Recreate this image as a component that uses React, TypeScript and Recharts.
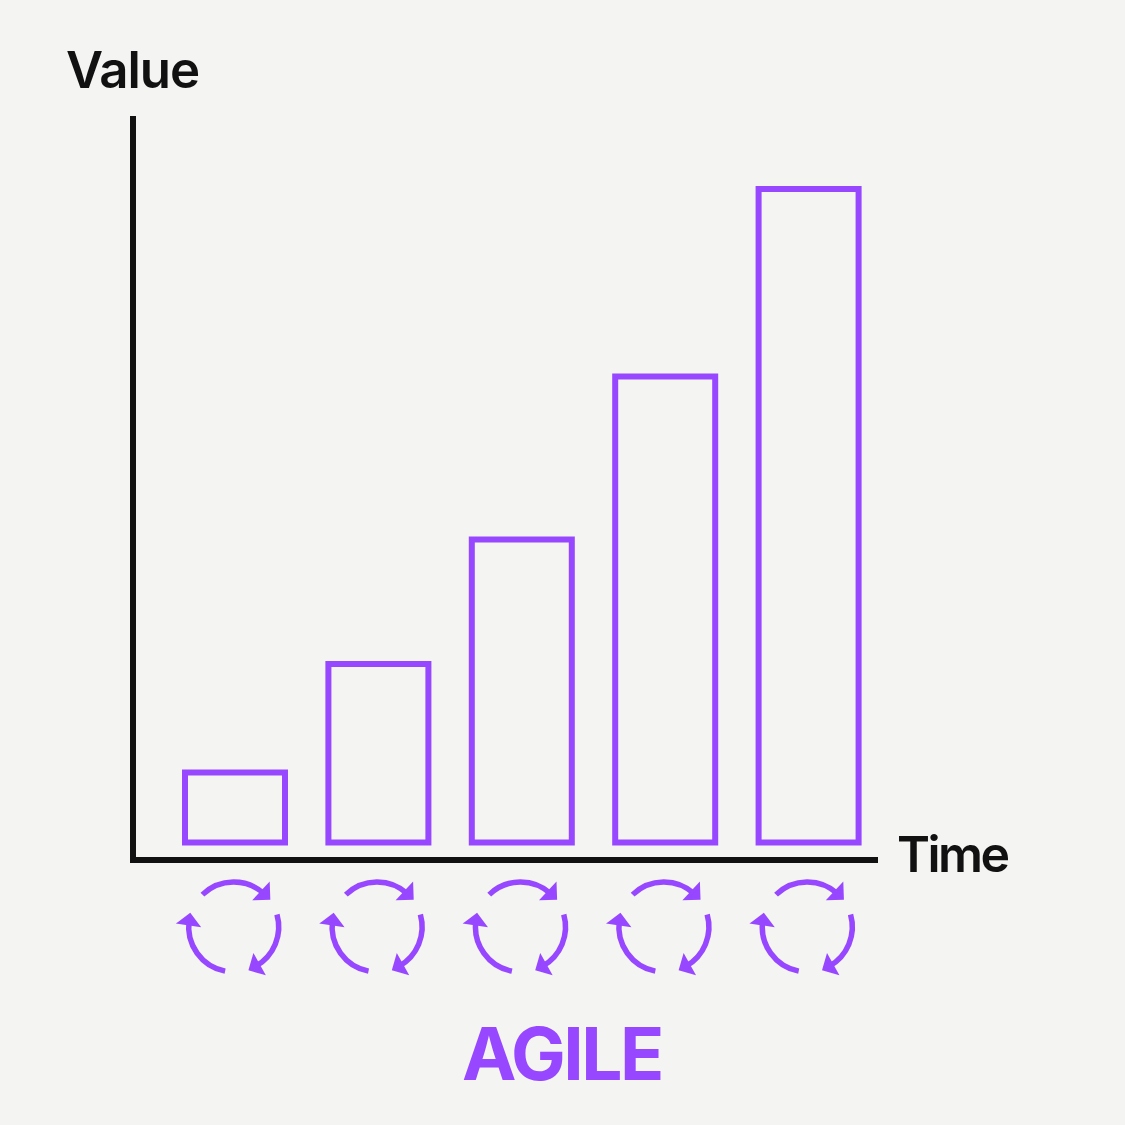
import React from 'react';
import { BarChart, Bar, XAxis, YAxis, Label } from 'recharts';

const sprints = ['Sprint 1', 'Sprint 2', 'Sprint 3', 'Sprint 4', 'Sprint 5'];
const values = [1.0, 2.55, 4.33, 6.66, 9.34];
const yLabel = 'Value';
const xLabel = 'Time';
const title = 'AGILE';

const data = sprints.map((s, i) => ({ sprint: s, value: values[i] }));

const PURPLE = '#9747FF';
const INK = '#111111';
const BG = '#F4F4F2';
const FONT = 'Inter, "Open Sans", sans-serif';

function pt(cx: number, cy: number, r: number, deg: number): [number, number] {
  const a = (deg * Math.PI) / 180;
  return [cx + r * Math.cos(a), cy + r * Math.sin(a)];
}

function CycleIcon({ cx, cy }: { cx: number; cy: number }) {
  const r = 45;
  const arcs: [number, number][] = [
    [-134, -47],
    [-16, 61],
    [101, 188],
  ];
  return (
    <g>
      {arcs.map(([a0, a1], i) => {
        const [sx, sy] = pt(cx, cy, r, a0);
        const [ex, ey] = pt(cx, cy, r, a1);
        const rad = (a1 * Math.PI) / 180;
        const tx = -Math.sin(rad);
        const ty = Math.cos(rad);
        const tipX = ex + tx * 6;
        const tipY = ey + ty * 6;
        const bx = -tx;
        const by = -ty;
        const rot = (x: number, y: number, d: number): [number, number] => {
          const q = (d * Math.PI) / 180;
          return [x * Math.cos(q) - y * Math.sin(q), x * Math.sin(q) + y * Math.cos(q)];
        };
        const [l1x, l1y] = rot(bx, by, 45);
        const [l2x, l2y] = rot(bx, by, -45);
        const L = 13;
        return (
          <g key={i}>
            <path
              d={`M ${sx} ${sy} A ${r} ${r} 0 0 1 ${ex} ${ey}`}
              fill="none"
              stroke={PURPLE}
              strokeWidth={5.5}
            />
            <polygon
              points={`${tipX + l1x * L},${tipY + l1y * L} ${tipX},${tipY} ${tipX + l2x * L},${tipY + l2y * L}`}
              fill={PURPLE}
              stroke={PURPLE}
              strokeWidth={3}
              strokeLinejoin="miter"
            />
          </g>
        );
      })}
    </g>
  );
}

function CycleTick(props: any) {
  const { x, y } = props;
  return <CycleIcon cx={x - 1} cy={y + 67} />;
}

export default function App() {
  return (
    <div
      style={{
        position: 'absolute',
        left: 0,
        top: 0,
        width: 1125,
        height: 1125,
        background: BG,
      }}
    >
      <BarChart
        width={1125}
        height={1125}
        data={data}
        margin={{ top: 119, right: 247, bottom: 235, left: 73 }}
      >
        <XAxis
          dataKey="sprint"
          height={30}
          padding={{ left: 30, right: -2 }}
          axisLine={{ stroke: INK, strokeWidth: 6 }}
          tickLine={false}
          tickSize={0}
          tickMargin={0}
          tick={<CycleTick />}
          interval={0}
        >
          <Label
            content={() => (
              <text
                x={897}
                y={872}
                fontFamily={FONT}
                fontSize={50}
                fontWeight={600}
                letterSpacing={-2.5}
                fill={INK}
              >
                {xLabel}
              </text>
            )}
          />
          <Label
            content={() => (
              <text
                x={562}
                y={1080}
                textAnchor="middle"
                fontFamily={FONT}
                fontSize={73}
                fontWeight={700}
                letterSpacing={-2.5}
                fill={PURPLE}
              >
                {title}
              </text>
            )}
          />
        </XAxis>
        <YAxis
          type="number"
          domain={[-0.25, 10.34]}
          allowDataOverflow
          width={60}
          axisLine={{ stroke: INK, strokeWidth: 6, strokeLinecap: 'square' }}
          tick={false}
          tickLine={false}
        >
          <Label
            content={() => (
              <text
                x={66}
                y={88}
                fontFamily={FONT}
                fontSize={51}
                fontWeight={600}
                letterSpacing={-1}
                fill={INK}
              >
                {yLabel}
              </text>
            )}
          />
        </YAxis>
        <Bar
          dataKey="value"
          barSize={100}
          fill="none"
          stroke={PURPLE}
          strokeWidth={6}
          isAnimationActive={false}
        />
      </BarChart>
    </div>
  );
}
